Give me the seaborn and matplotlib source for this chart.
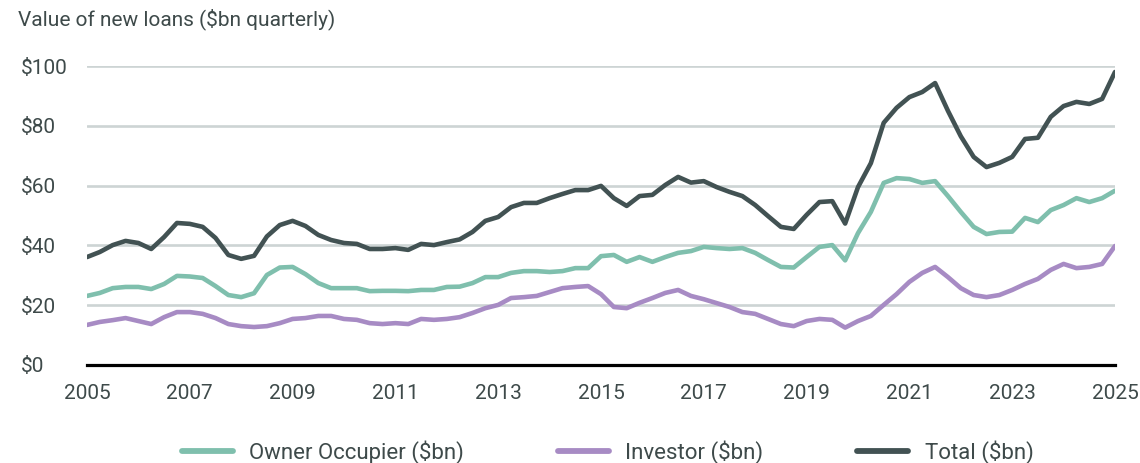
import numpy as np
import pandas as pd
import matplotlib
matplotlib.use("Agg")
import matplotlib.pyplot as plt
import seaborn as sns

start_year = 2005
quarters_per_year = 4

owner_occupier = [23.1, 24.1, 25.7, 26.1, 26.1, 25.4, 27.1, 29.8, 29.6, 29.1,
                  26.4, 23.4, 22.7, 24.0, 30.1, 32.6, 32.8, 30.4, 27.4, 25.7,
                  25.7, 25.7, 24.7, 24.8, 24.8, 24.7, 25.1, 25.1, 26.1, 26.2,
                  27.4, 29.4, 29.4, 30.8, 31.4, 31.4, 31.1, 31.4, 32.4, 32.4,
                  36.4, 36.8, 34.5, 36.1, 34.5, 36.1, 37.5, 38.1, 39.5, 39.1,
                  38.8, 39.1, 37.5, 35.1, 32.8, 32.6, 36.1, 39.5, 40.1, 35.0,
                  44.1, 51.2, 60.9, 62.5, 62.2, 60.9, 61.5, 56.5, 51.2, 46.2,
                  43.8, 44.5, 44.6, 49.2, 47.8, 51.8, 53.5, 55.8, 54.5, 55.8,
                  58.3]
investor = [13.4, 14.4, 15.0, 15.7, 14.7, 13.7, 16.0, 17.7, 17.7, 17.1,
            15.7, 13.7, 13.0, 12.7, 13.0, 14.0, 15.4, 15.7, 16.4, 16.4,
            15.4, 15.1, 14.0, 13.7, 14.0, 13.7, 15.4, 15.1, 15.4, 16.0,
            17.4, 19.0, 20.1, 22.4, 22.7, 23.1, 24.4, 25.7, 26.1, 26.4,
            23.7, 19.4, 19.0, 20.8, 22.4, 24.1, 25.1, 23.1, 22.0, 20.7,
            19.4, 17.7, 17.1, 15.4, 13.7, 13.0, 14.7, 15.4, 15.1, 12.5,
            14.7, 16.4, 20.1, 23.7, 27.8, 30.8, 32.8, 29.4, 25.7, 23.4,
            22.7, 23.4, 25.1, 27.1, 28.8, 31.8, 33.8, 32.4, 32.8, 33.8,
            39.8]
total = [36.1, 37.8, 40.1, 41.5, 40.8, 38.8, 42.8, 47.5, 47.2, 46.2,
         42.5, 36.8, 35.5, 36.5, 43.0, 46.8, 48.2, 46.5, 43.5, 41.8,
         40.8, 40.5, 38.8, 38.8, 39.1, 38.5, 40.5, 40.1, 41.1, 42.0,
         44.5, 48.2, 49.5, 52.8, 54.2, 54.2, 55.8, 57.2, 58.5, 58.5,
         59.9, 55.8, 53.2, 56.5, 56.9, 60.2, 62.9, 61.0, 61.5, 59.5,
         57.9, 56.5, 53.5, 49.8, 46.2, 45.5, 50.2, 54.5, 54.8, 47.3,
         59.5, 67.5, 81.0, 86.0, 89.6, 91.3, 94.3, 85.0, 76.5, 69.6,
         66.2, 67.6, 69.6, 75.6, 76.0, 83.0, 86.6, 88.0, 87.3, 89.0,
         98.0]

series_names = ["Owner Occupier ($bn)", "Investor ($bn)", "Total ($bn)"]
series_colors = ["#7fbfad", "#a78bc4", "#425253"]
x_tick_years = list(range(2005, 2026, 2))
y_ticks = [0, 20, 40, 60, 80, 100]
y_tick_labels = ["$0", "$20", "$40", "$60", "$80", "$100"]
title_text = "Value of new loans ($bn quarterly)"

n = len(total)
t = [start_year + i / quarters_per_year for i in range(n)]
df = pd.DataFrame({
    "t": t * 3,
    "value": owner_occupier + investor + total,
    "series": [series_names[0]] * n + [series_names[1]] * n + [series_names[2]] * n,
})

sns.set_theme(style="white")
plt.rcParams["font.family"] = ["Roboto", "DejaVu Sans"]
text_color = "#3e4a4a"

dpi = 100
fig = plt.figure(figsize=(11.4, 4.63), dpi=dpi)
ax = fig.add_axes([87 / 1140, 98 / 463, (1115 - 87) / 1140, (365 - 66) / 463])

sns.lineplot(data=df, x="t", y="value", hue="series", hue_order=series_names,
             palette=series_colors, linewidth=3.3, ax=ax, legend=False)

ax.set_xlim(2005, 2025)
ax.set_ylim(0, 100)
ax.set_xticks(x_tick_years)
ax.set_xticklabels([str(y) for y in x_tick_years])
ax.set_yticks(y_ticks)
ax.set_yticklabels(y_tick_labels)
ax.set_xlabel("")
ax.set_ylabel("")

for yv in y_ticks[1:]:
    ax.axhline(yv, color="#cdd4d4", linewidth=1.9, zorder=0)

for s in ["top", "right", "left"]:
    ax.spines[s].set_visible(False)
ax.spines["bottom"].set_color("black")
ax.spines["bottom"].set_linewidth(2.3)

ax.tick_params(axis="x", length=0, pad=14, labelsize=15, labelcolor=text_color)
ax.tick_params(axis="y", length=0, pad=66 * 72 / dpi, labelsize=15, labelcolor=text_color)
for lab in ax.get_yticklabels():
    lab.set_horizontalalignment("left")

fig.text(18 / 1140, 1 - 19 / 463, title_text, fontsize=15, color=text_color,
         ha="left", va="center")

handles = [plt.Line2D([0], [0], color=c, linewidth=4.2, solid_capstyle="round")
           for c in series_colors]
fig.legend(handles, series_names, loc="center", bbox_to_anchor=(0.533, 1 - 452 / 463),
           ncol=3, frameon=False, fontsize=16, handlelength=2.3, handletextpad=0.75,
           columnspacing=4.2, labelcolor=text_color)

fig.savefig("out.png", dpi=dpi)
